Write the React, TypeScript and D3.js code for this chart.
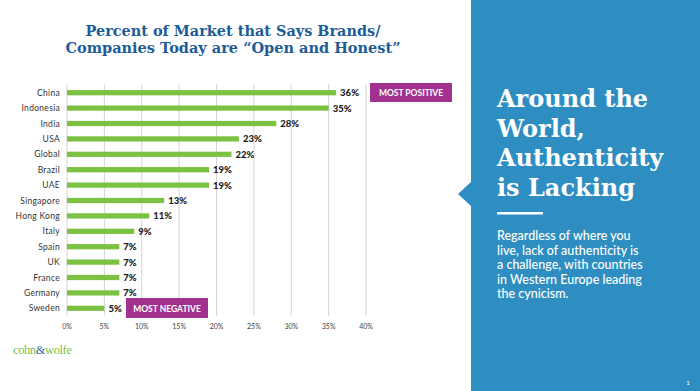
import React from "react";
import * as d3 from "d3";

const countries = ["China","Indonesia","India","USA","Global","Brazil","UAE","Singapore","Hong Kong","Italy","Spain","UK","France","Germany","Sweden"];
const values = [36,35,28,23,22,19,19,13,11,9,7,7,7,7,5];
const ticks = [0,5,10,15,20,25,30,35,40];
const titleLines = ["Percent of Market that Says Brands/", "Companies Today are \u201cOpen and Honest\u201d"];
const headLines = ["Around the", "World,", "Authenticity", "is Lacking"];
const bodyLines = ["Regardless of where you", "live, lack of authenticity is", "a challenge, with countries", "in Western Europe leading", "the cynicism."];

export default function App() {
  const W = 700, H = 391;
  const x = d3.scaleLinear().domain([0, 40]).range([67, 366]);
  const y = d3.scaleBand().domain(countries).range([85, 316]).paddingInner(0.66).paddingOuter(0.33);
  const sans = "Lato, 'Open Sans', sans-serif";
  const serif = "'DejaVu Serif', Georgia, serif";
  const purple = "#a2308f";
  const green = "#7cc242";
  const blue = "#2e8ec2";
  const yc = (c: string) => (y(c) as number) + y.bandwidth() / 2;
  return (
    <svg width={W} height={H} style={{ position: "absolute", left: 0, top: 0 }}>
      <rect width={W} height={H} fill="#ffffff" />
      {titleLines.map((t, i) => (
        <text key={t} x={233} y={36 + i * 16.5} textAnchor="middle" fontFamily={serif} fontWeight="bold" fontSize={14.5} fill="#1d5c97" textLength={i === 0 ? 295 : 335} lengthAdjust="spacingAndGlyphs">{t}</text>
      ))}
      {ticks.map(t => (
        <g key={t}>
          <line x1={x(t)} x2={x(t)} y1={84} y2={316} stroke="#d4d4d4" strokeWidth={1} />
          <text x={x(t)} y={329} textAnchor="middle" fontFamily={sans} fontSize={7} fill="#444">{t}%</text>
        </g>
      ))}
      {countries.map((c, i) => (
        <g key={c}>
          <text x={60} y={yc(c) + 3} textAnchor="end" fontFamily={sans} fontSize={8.5} fill="#333" letterSpacing={0.3}>{c}</text>
          <rect x={x(0)} y={y(c) as number} width={x(values[i]) - x(0)} height={y.bandwidth()} fill={green} />
          <text x={x(values[i]) + 4} y={yc(c) + 3.5} fontFamily={sans} fontWeight="900" fontSize={9.5} fill="#222">{values[i]}%</text>
        </g>
      ))}
      <rect x={370} y={83} width={82} height={19} fill={purple} />
      <text x={411} y={96} textAnchor="middle" fontFamily={sans} fontWeight="bold" fontSize={8.5} fill="#fff">MOST POSITIVE</text>
      <rect x={126} y={298} width={82} height={20} fill={purple} />
      <text x={167} y={311.5} textAnchor="middle" fontFamily={sans} fontWeight="bold" fontSize={8.5} fill="#fff">MOST NEGATIVE</text>
      <text x={13} y={354} fontFamily="'Liberation Serif', serif" fontSize={12.5} fill="#7cbf4a" letterSpacing={-0.4}>
        cohn<tspan fill="#2d6fa8">&amp;</tspan>wolfe
      </text>
      <rect x={471} y={0} width={229} height={H} fill={blue} />
      <path d="M471,182 L458,194 L471,206 Z" fill={blue} />
      {headLines.map((t, i) => (
        <text key={t} x={497} y={107 + i * 29.5} fontFamily={serif} fontWeight="bold" fontSize={24} fill="#fff">{t}</text>
      ))}
      <rect x={497} y={212} width={46} height={2.5} fill="#fff" />
      {bodyLines.map((t, i) => (
        <text key={t} x={497} y={240 + i * 14.5} fontFamily={sans} fontWeight="500" fontSize={12.5} fill="#fff">{t}</text>
      ))}
      <text x={688} y={385} textAnchor="middle" fontFamily={sans} fontSize={6} fill="#fff">1</text>
    </svg>
  );
}
